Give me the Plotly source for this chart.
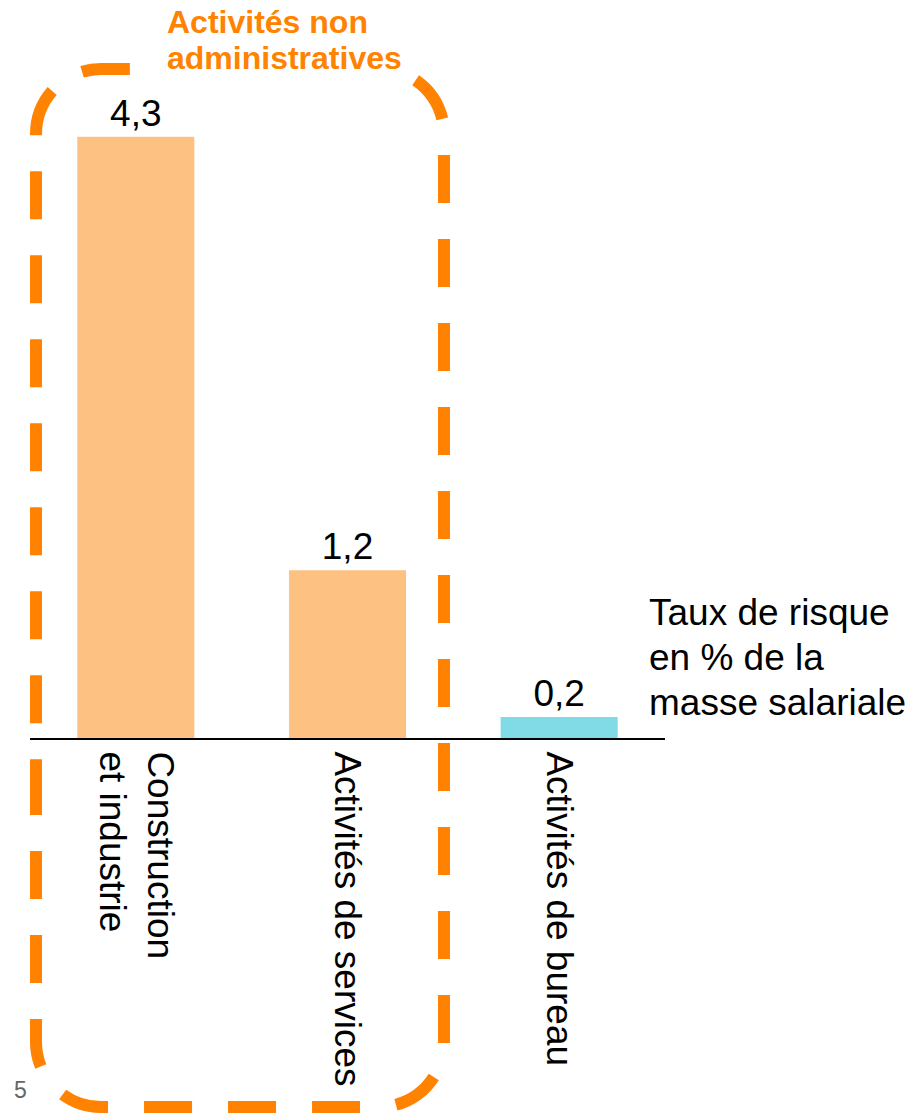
import plotly.graph_objects as go

# ---- data ----
categories = ["Construction<br>et industrie", "Activités de services", "Activités de bureau"]
values = [4.3, 1.2, 0.15]
value_labels = ["4,3", "1,2", "0,2"]
bar_colors = ["#FDC182", "#FDC182", "#80DBE6"]
side_lines = ["Taux de risque", "en % de la", "masse salariale"]
box_lines = ["Activités non", "administratives"]
page_number = "5"

# ---- layout geometry (pixels) ----
W, H = 913, 1113
PL, PR = 30, 665      # plot area x
PT, PB = 60, 738      # plot area y
PX_PER_UNIT = 139.8
y_max = (PB - PT) / PX_PER_UNIT


def px(x):
    return (x - PL) / (PR - PL)


def py(y):
    return (PB - y) / (PB - PT)


# rounded dashed box (pixels)
L, R, T, B, RAD = 36, 444, 69, 1107, 65
K = 0.5523 * RAD


def P(x, y):
    return f"{px(x):.6f},{py(y):.6f}"


path = (
    f"M{P(L, 767)} L{P(L, B - RAD)} "
    f"C{P(L, B - RAD + K)} {P(L + RAD - K, B)} {P(L + RAD, B)} "
    f"L{P(R - RAD, B)} "
    f"C{P(R - RAD + K, B)} {P(R, B - RAD + K)} {P(R, B - RAD)} "
    f"L{P(R, T + RAD)} "
    f"C{P(R, T + RAD - K)} {P(R - RAD + K, T)} {P(R - RAD, T)} "
    f"L{P(L + RAD, T)} "
    f"C{P(L + RAD - K, T)} {P(L, T + RAD - K)} {P(L, T + RAD)} "
    f"Z"
)

FONT = "Liberation Sans, Arial, sans-serif"
ORANGE = "#FF8200"

fig = go.Figure(
    go.Bar(
        x=list(range(len(categories))),
        y=values,
        marker=dict(color=bar_colors, line=dict(width=0)),
        text=value_labels,
        textposition="outside",
        textfont=dict(size=37, color="black", family=FONT),
        cliponaxis=False,
        hoverinfo="skip",
    )
)

annotations = []
for i, line in enumerate(box_lines):
    annotations.append(dict(
        text=line,
        xref="paper", yref="paper",
        x=px(165), y=py(22 + 36 * i),
        xanchor="left", yanchor="middle", align="left",
        showarrow=False, bgcolor="white", borderpad=1,
        font=dict(size=32, color=ORANGE, family=FONT, weight="bold"),
    ))
for i, line in enumerate(side_lines):
    annotations.append(dict(
        text=line,
        xref="paper", yref="paper",
        x=px(647), y=py(612 + 45 * i),
        xanchor="left", yanchor="middle", align="left",
        showarrow=False,
        font=dict(size=37, color="black", family=FONT),
    ))
annotations.append(dict(
    text=page_number,
    xref="paper", yref="paper",
    x=px(12), y=py(1090),
    xanchor="left", yanchor="middle",
    showarrow=False,
    font=dict(size=23, color="#666666", family=FONT),
))

fig.update_layout(
    width=W,
    height=H,
    margin=dict(l=PL, r=W - PR, t=PT, b=H - PB, pad=0),
    paper_bgcolor="white",
    plot_bgcolor="white",
    bargap=0.447,
    showlegend=False,
    font=dict(family=FONT, color="black"),
    xaxis=dict(
        range=[-0.5, 2.5],
        tickmode="array",
        tickvals=list(range(len(categories))),
        ticktext=categories,
        tickangle=90,
        tickfont=dict(size=37, color="black", family=FONT),
        showline=True,
        linecolor="black",
        linewidth=2,
        ticks="outside",
        ticklen=4,
        tickwidth=0,
        tickcolor="rgba(0,0,0,0)",
        showgrid=False,
        zeroline=False,
        fixedrange=True,
        automargin=False,
    ),
    yaxis=dict(range=[0, y_max], visible=False, fixedrange=True),
    shapes=[
        dict(
            type="path",
            xref="paper",
            yref="paper",
            path=path,
            line=dict(color=ORANGE, width=12, dash="48px,36px"),
            fillcolor="rgba(0,0,0,0)",
            layer="above",
        )
    ],
    annotations=annotations,
)

fig.write_html(
    "out.html",
    config={"displayModeBar": False},
    post_script="document.body.style.margin='0';document.body.style.overflow='hidden';",
)
